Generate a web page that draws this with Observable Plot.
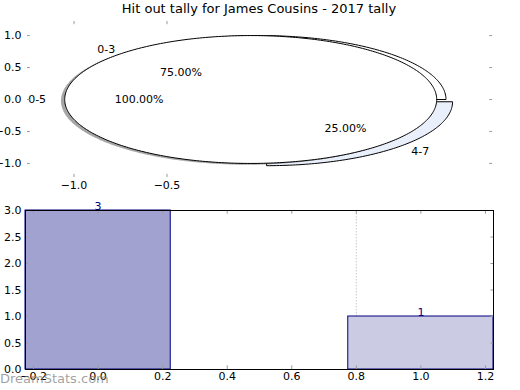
<!DOCTYPE html>
<html>
<head>
<meta charset="utf-8">
<script src="https://cdn.jsdelivr.net/npm/d3@7"></script>
<script src="https://cdn.jsdelivr.net/npm/@observablehq/plot@0.6"></script>
<style>
  html, body { margin: 0; padding: 0; background: #fff; }
  #wrap { position: relative; width: 520px; height: 390px; font-family: "DejaVu Sans", sans-serif; overflow: hidden; }
  #title { position: absolute; top: 1px; left: 0; width: 518px; text-align: center; font-size: 13px; color: #000; z-index: 2; }
  #top { position: absolute; top: 0; left: 0; }
  #bottom { position: absolute; top: 200px; left: 0; }
  #mark { position: absolute; left: 0; top: 371px; font-size: 13px; color: rgba(130,130,130,0.75); z-index: 3; }
</style>
</head>
<body>
<div id="wrap">
  <div id="top"></div>
  <div id="bottom"></div>
  <div id="title">Hit out tally for James Cousins - 2017 tally</div>
  <div id="mark">DreamStats.com</div>
</div>
<script>
// ---- data ----
const titleText = "Hit out tally for James Cousins - 2017 tally";
const pieLabels = ["0-3", "4-7"];
const pieValues = [3, 1];
const pieExplode = [0, 0.05];
const pieColors = ["#ffffff", "#e9effb"];
const pie2Labels = ["0-5"];
const pie2Values = [4];
const pie2Explode = [0.05];
const pie2Colors = ["#ffffff"];
const topYTicks = [1.0, 0.5, 0.0, -0.5, -1.0];
const topXTicks = [-1.0, -0.5];

const barCategories = [0, 1];
const barValues = [3, 1];
const barColors = ["#a2a2d0", "#cbcbe4"];
const barWidth = 0.45;
const bottomXTicks = [-0.2, 0.0, 0.2, 0.4, 0.6, 0.8, 1.0, 1.2];
const bottomYTicks = [0.0, 0.5, 1.0, 1.5, 2.0, 2.5, 3.0];
const gridX = [0.8];

// ---- pie geometry (data units) ----
const rad = d => d * Math.PI / 180;
function wedges(values, explode, labels, colors) {
  const total = d3.sum(values);
  let start = 0;
  return values.map((v, i) => {
    const sweep = 360 * v / total;
    const t1 = start, t2 = start + sweep;
    start = t2;
    const mid = rad((t1 + t2) / 2);
    const ox = explode[i] * Math.cos(mid), oy = explode[i] * Math.sin(mid);
    const pts = [];
    const full = sweep >= 359.999;
    if (!full) pts.push([ox, oy]);
    for (let a = t1; a <= t2 + 1e-9; a += 1) pts.push([ox + Math.cos(rad(a)), oy + Math.sin(rad(a))]);
    pts.push(full ? pts[0] : [ox, oy]);
    return {
      pts, ox, oy, mid, color: colors[i], label: labels[i],
      pct: (100 * v / total).toFixed(2) + "%",
      lx: ox + 1.1 * Math.cos(mid), ly: oy + 1.1 * Math.sin(mid),
      px: ox + 0.6 * Math.cos(mid), py: oy + 0.6 * Math.sin(mid)
    };
  });
}
const w1 = wedges(pieValues, pieExplode, pieLabels, pieColors);
const w2 = wedges(pie2Values, pie2Explode, pie2Labels, pie2Colors);
const shadow = w2.map(w => ({...w, pts: w.pts.map(([x, y]) => [x - 0.02, y - 0.02])}));

const xdTop = [-1.25, 1.25], ydTop = [-1.22, 1.22];
const fmt = d3.format(".1f");
const tickGray = "#9a9a9a";

const wedgeMarks = (ws, opts = {}) => ws.map(w => Plot.line(w.pts, {
  x: d => d[0], y: d => d[1], fill: opts.fill || w.color, fillOpacity: opts.fillOpacity ?? 1,
  stroke: opts.stroke ?? "black", strokeWidth: opts.strokeWidth ?? 1, curve: "linear"
}));
const labelMarks = ws => [
  Plot.text(ws.filter(d => d.lx < 0), {x: "lx", y: "ly", text: "label", textAnchor: "end", fill: "black", fontSize: 11}),
  Plot.text(ws.filter(d => d.lx >= 0), {x: "lx", y: "ly", text: "label", textAnchor: "start", fill: "black", fontSize: 11}),
  Plot.text(ws, {x: "px", y: "py", text: "pct", textAnchor: "middle", fill: "black", fontSize: 11})
];

const topPlot = Plot.plot({
  width: 520, height: 200,
  marginTop: 21, marginBottom: 23, marginLeft: 27, marginRight: 28,
  x: {domain: xdTop, axis: null},
  y: {domain: ydTop, axis: null},
  style: {fontFamily: "DejaVu Sans", fontSize: "11px", background: "transparent", overflow: "visible"},
  marks: [
    ...wedgeMarks(w1),
    ...wedgeMarks(shadow, {fill: "#4d4d4d", fillOpacity: 0.5, stroke: "none"}),
    ...wedgeMarks(w2),
    ...labelMarks(w1),
    ...labelMarks(w2),
    Plot.ruleY(topYTicks, {y: d => d, x1: () => xdTop[0], x2: () => xdTop[0] + 0.015, stroke: tickGray}),
    Plot.ruleY(topYTicks, {y: d => d, x1: () => xdTop[1], x2: () => xdTop[1] - 0.015, stroke: tickGray}),
    Plot.ruleX(topXTicks, {x: d => d, y1: () => ydTop[0], y2: () => ydTop[0] + 0.05, stroke: tickGray}),
    Plot.ruleX(topXTicks, {x: d => d, y1: () => ydTop[1], y2: () => ydTop[1] - 0.05, stroke: tickGray}),
    Plot.axisY(topYTicks, {anchor: "left", label: null, tickSize: 0, tickPadding: 6, tickFormat: fmt, fontSize: 11, fill: "black"}),
    Plot.axisX(topXTicks, {anchor: "bottom", label: null, tickSize: 0, tickPadding: 4, tickFormat: fmt, fontSize: 11, fill: "black"})
  ]
});
document.getElementById("top").appendChild(topPlot);

// ---- bar chart ----
const bars = barCategories.map((c, i) => ({x: c, v: barValues[i], color: barColors[i], label: String(barValues[i])}));
const xdB = [barCategories[0] - barWidth / 2, barCategories[barCategories.length - 1] + barWidth / 2];
const ydB = [0, d3.max(barValues)];

const bottomPlot = Plot.plot({
  width: 520, height: 190,
  marginTop: 10, marginBottom: 21, marginLeft: 25, marginRight: 27,
  x: {domain: xdB, axis: null},
  y: {domain: ydB, axis: null},
  style: {fontFamily: "DejaVu Sans", fontSize: "11px", background: "transparent", overflow: "visible"},
  marks: [
    Plot.ruleX(gridX, {stroke: "#c8c8c8", strokeDasharray: "1.5,1.5"}),
    Plot.rect(bars, {x1: d => d.x - barWidth / 2, x2: d => d.x + barWidth / 2, y1: 0, y2: "v", fill: "color", stroke: "#000080", strokeWidth: 1}),
    Plot.ruleX(bottomXTicks, {x: d => d, y1: () => ydB[0], y2: () => ydB[0] + 0.07, stroke: tickGray}),
    Plot.ruleX(bottomXTicks, {x: d => d, y1: () => ydB[1], y2: () => ydB[1] - 0.07, stroke: tickGray}),
    Plot.ruleY(bottomYTicks, {y: d => d, x1: () => xdB[0], x2: () => xdB[0] + 0.008, stroke: tickGray}),
    Plot.ruleY(bottomYTicks, {y: d => d, x1: () => xdB[1], x2: () => xdB[1] - 0.008, stroke: tickGray}),
    Plot.frame({stroke: "black"}),
    Plot.text(bars, {x: "x", y: "v", text: "label", fill: "#000080", fontSize: 11, textAnchor: "middle", lineAnchor: "bottom", dy: -1}),
    Plot.axisY(bottomYTicks, {anchor: "left", label: null, tickSize: 0, tickPadding: 4, tickFormat: fmt, fontSize: 11, fill: "black"}),
    Plot.axisX(bottomXTicks, {anchor: "bottom", label: null, tickSize: 0, tickPadding: 3, tickFormat: fmt, fontSize: 11, fill: "black"})
  ]
});
document.getElementById("bottom").appendChild(bottomPlot);
</script>
</body>
</html>
